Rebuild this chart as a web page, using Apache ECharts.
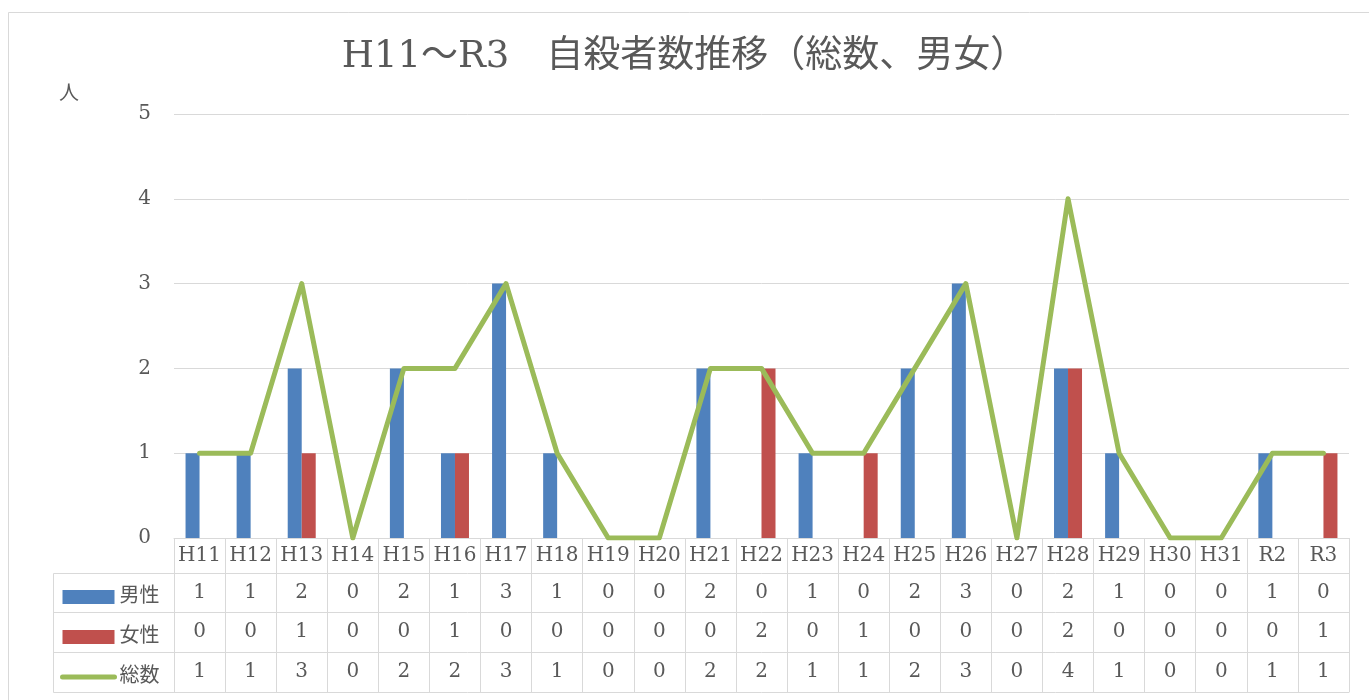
<!DOCTYPE html>
<html>
<head>
<meta charset="utf-8">
<script src="https://cdn.jsdelivr.net/npm/echarts@6/dist/echarts.min.js"></script>
<style>html,body{margin:0;padding:0;background:#fff}#c{width:1369px;height:700px}</style>
</head>
<body>
<div id="c"></div>
<script>
const categories = ['H11','H12','H13','H14','H15','H16','H17','H18','H19','H20','H21','H22','H23','H24','H25','H26','H27','H28','H29','H30','H31','R2','R3'];
const male   = [1,1,2,0,2,1,3,1,0,0,2,0,1,0,2,3,0,2,1,0,0,1,0];
const female = [0,0,1,0,0,1,0,0,0,0,0,2,0,1,0,0,0,2,0,0,0,0,1];
const total  = [1,1,3,0,2,2,3,1,0,0,2,2,1,1,2,3,0,4,1,0,0,1,1];
const yTicks = [0,1,2,3,4,5];

const FONT = "'DejaVu Serif', 'Noto Sans CJK JP', serif";
const TXT = '#595959';
const GRIDC = '#d9d9d9';

const chart = echarts.init(document.getElementById('c'));

function rowAxis(arr, offset, showLabel) {
  return {
    type: 'category', data: categories, gridIndex: 0, position: 'bottom', offset: offset,
    axisLine: { show: true, lineStyle: { color: GRIDC, width: 1 } },
    axisTick: { show: false },
    axisLabel: {
      show: showLabel, interval: 0, margin: 10, color: TXT, fontFamily: FONT, fontSize: 20,
      formatter: (v, i) => arr ? String(arr[i]) : ''
    },
    splitLine: { show: false }
  };
}

const option = {
  backgroundColor: '#fff',
  animation: false,
  title: {
    text: 'H11～R3\u3000自殺者数推移（総数、男女）',
    left: 'center', top: 34,
    textStyle: { fontFamily: FONT, fontSize: 37, fontWeight: 'normal', color: TXT }
  },
  legend: {
    orient: 'vertical', left: 55, top: 582,
    itemWidth: 52, itemHeight: 14, itemGap: 20,
    textStyle: { fontFamily: FONT, fontSize: 20, color: TXT, lineHeight: 20 },
    data: [
      { name: '男性', icon: 'rect' },
      { name: '女性', icon: 'rect' },
      { name: '総数', itemStyle: { opacity: 0 }, lineStyle: { width: 5, cap: 'round', color: '#9BBB59' } }
    ],
    selectedMode: false
  },
  grid: { left: 174, right: 20, top: 114, bottom: 162, containLabel: false },
  xAxis: [
    {
      type: 'category', data: categories, position: 'bottom',
      axisLine: { show: true, lineStyle: { color: GRIDC, width: 1 } },
      axisTick: { show: true, interval: 0, alignWithLabel: false, length: 154, lineStyle: { color: GRIDC, width: 1 } },
      axisLabel: { interval: 0, margin: 8, color: TXT, fontFamily: FONT, fontSize: 20 },
      splitLine: { show: false }
    },
    rowAxis(male, 35, true),
    rowAxis(female, 74, true),
    rowAxis(total, 114, true),
    rowAxis(null, 154, false)
  ],
  yAxis: {
    type: 'value', min: yTicks[0], max: yTicks[yTicks.length - 1], interval: 1,
    name: '人', nameLocation: 'end', nameGap: 9,
    nameTextStyle: { fontFamily: FONT, fontSize: 20, color: TXT, align: 'right', padding: [0, 95, 0, 0] },
    axisLine: { show: false }, axisTick: { show: false },
    axisLabel: { margin: 23, color: TXT, fontFamily: FONT, fontSize: 20 },
    splitLine: { lineStyle: { color: GRIDC, width: 1 } }
  },
  series: [
    { name: '男性', type: 'bar', data: male, barWidth: 14, barGap: '0%', itemStyle: { color: '#4F81BD' } },
    { name: '女性', type: 'bar', data: female, barWidth: 14, barGap: '0%', itemStyle: { color: '#C0504D' } },
    { name: '総数', type: 'line', data: total, symbol: 'none', lineStyle: { color: '#9BBB59', width: 5, join: 'round', cap: 'round' }, itemStyle: { color: '#9BBB59' } }
  ],
  graphic: [
    { type: 'rect', shape: { x: 8.5, y: 12.5, width: 1400, height: 720 }, style: { fill: null, stroke: GRIDC, lineWidth: 1 }, silent: true },
    { type: 'line', shape: { x1: 53.5, y1: 573.5, x2: 174, y2: 573.5 }, style: { stroke: GRIDC, lineWidth: 1 } },
    { type: 'line', shape: { x1: 53.5, y1: 612.5, x2: 174, y2: 612.5 }, style: { stroke: GRIDC, lineWidth: 1 } },
    { type: 'line', shape: { x1: 53.5, y1: 652.5, x2: 174, y2: 652.5 }, style: { stroke: GRIDC, lineWidth: 1 } },
    { type: 'line', shape: { x1: 53.5, y1: 692.5, x2: 174, y2: 692.5 }, style: { stroke: GRIDC, lineWidth: 1 } },
    { type: 'line', shape: { x1: 53.5, y1: 573.5, x2: 53.5, y2: 692.5 }, style: { stroke: GRIDC, lineWidth: 1 } }
  ]
};
chart.setOption(option);
</script>
</body>
</html>
